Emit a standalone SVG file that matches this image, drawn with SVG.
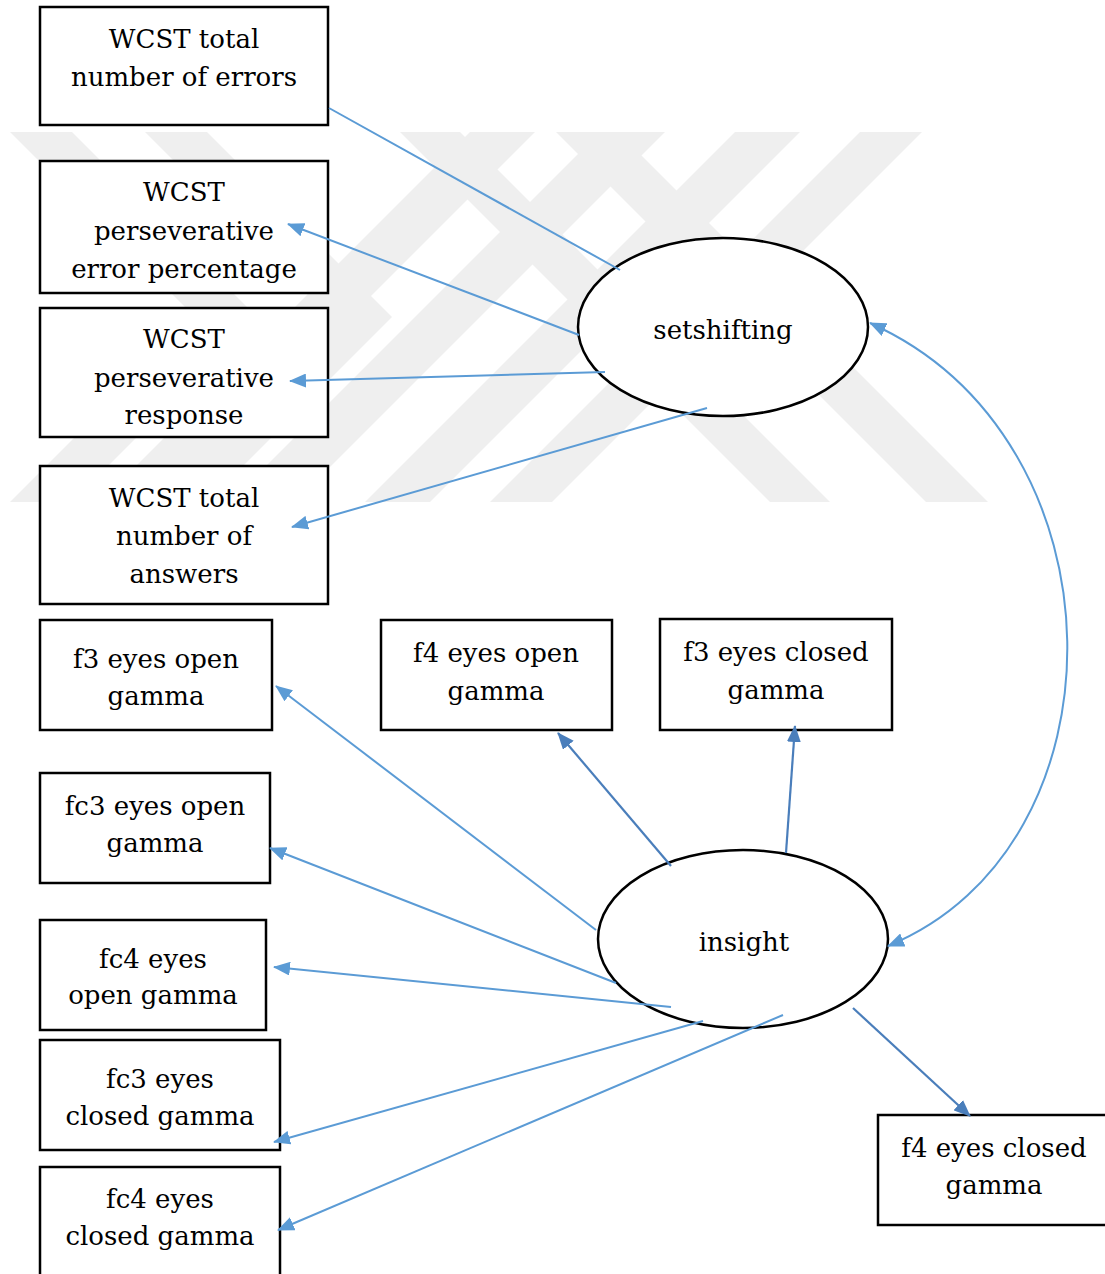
<svg xmlns="http://www.w3.org/2000/svg" width="1105" height="1274" viewBox="0 0 1105 1274">
  <style>
    .box { fill: #ffffff; stroke: #000000; stroke-width: 2.5; }
    .lat { fill: #ffffff; stroke: #000000; stroke-width: 2.5; }
    .lbl { font-family: "DejaVu Serif", "Liberation Serif", serif; font-size: 26px; fill: #000000; text-anchor: middle; }
    .ln { fill: none; stroke: #5b9bd5; stroke-width: 2; }
    .ln2 { fill: none; stroke: #4a7ebb; stroke-width: 2.2; }
    .wm { fill: #efefef; }
  </style>
  <defs>
    <marker id="ah" markerUnits="userSpaceOnUse" markerWidth="17" markerHeight="14" refX="16" refY="7" orient="auto-start-reverse">
      <path d="M0,0 L17,7 L0,14 Z" fill="#5b9bd5"/>
    </marker>
    <marker id="ah2" markerUnits="userSpaceOnUse" markerWidth="17" markerHeight="14" refX="16" refY="7" orient="auto">
      <path d="M0,0 L17,7 L0,14 Z" fill="#4a7ebb"/>
    </marker>
  </defs>

  <rect x="0" y="0" width="1105" height="1274" fill="#ffffff"/>

  <!-- faint background emblem: diagonal bands -->
  <g id="watermark">
    <polygon class="wm" points="10,132 72,132 257,317 72,502 10,502 195,317"/>
    <polygon class="wm" points="145,132 207,132 392,317 207,502 145,502 330,317"/>
    <polygon class="wm" points="470,132 535,132 165,502 100,502"/>
    <polygon class="wm" points="600,132 665,132 295,502 230,502"/>
    <polygon class="wm" points="735,132 800,132 430,502 365,502"/>
    <polygon class="wm" points="860,132 922,132 552,502 490,502"/>
    <polygon class="wm" points="400,132 460,132 830,502 770,502"/>
    <polygon class="wm" points="556,132 618,132 988,502 926,502"/>
  </g>

  <!-- latent variables -->
  <g id="setshifting">
    <ellipse class="lat" cx="723" cy="327" rx="145" ry="89"/>
    <text class="lbl" x="723" y="339">setshifting</text>
  </g>
  <g id="insight">
    <ellipse class="lat" cx="743" cy="939" rx="145" ry="89"/>
    <text class="lbl" x="744" y="951">insight</text>
  </g>

  <!-- observed variables -->
  <g id="wcst-total-errors">
    <rect class="box" x="40" y="7" width="288" height="118"/>
    <text class="lbl" x="184" y="48">WCST total</text>
    <text class="lbl" x="184" y="86">number of errors</text>
  </g>
  <g id="wcst-persev-error-pct">
    <rect class="box" x="40" y="161" width="288" height="132"/>
    <text class="lbl" x="184" y="201">WCST</text>
    <text class="lbl" x="184" y="240">perseverative</text>
    <text class="lbl" x="184" y="278">error percentage</text>
  </g>
  <g id="wcst-persev-response">
    <rect class="box" x="40" y="308" width="288" height="129"/>
    <text class="lbl" x="184" y="348">WCST</text>
    <text class="lbl" x="184" y="387">perseverative</text>
    <text class="lbl" x="184" y="424">response</text>
  </g>
  <g id="wcst-total-answers">
    <rect class="box" x="40" y="466" width="288" height="138"/>
    <text class="lbl" x="184" y="507">WCST total</text>
    <text class="lbl" x="184" y="545">number of</text>
    <text class="lbl" x="184" y="583">answers</text>
  </g>
  <g id="f3-eo-gamma">
    <rect class="box" x="40" y="620" width="232" height="110"/>
    <text class="lbl" x="156" y="668">f3 eyes open</text>
    <text class="lbl" x="156" y="705">gamma</text>
  </g>
  <g id="f4-eo-gamma">
    <rect class="box" x="381" y="620" width="231" height="110"/>
    <text class="lbl" x="496" y="662">f4 eyes open</text>
    <text class="lbl" x="496" y="700">gamma</text>
  </g>
  <g id="f3-ec-gamma">
    <rect class="box" x="660" y="619" width="232" height="111"/>
    <text class="lbl" x="776" y="661">f3 eyes closed</text>
    <text class="lbl" x="776" y="699">gamma</text>
  </g>
  <g id="fc3-eo-gamma">
    <rect class="box" x="40" y="773" width="230" height="110"/>
    <text class="lbl" x="155" y="815">fc3 eyes open</text>
    <text class="lbl" x="155" y="852">gamma</text>
  </g>
  <g id="fc4-eo-gamma">
    <rect class="box" x="40" y="920" width="226" height="110"/>
    <text class="lbl" x="153" y="968">fc4 eyes</text>
    <text class="lbl" x="153" y="1004">open gamma</text>
  </g>
  <g id="fc3-ec-gamma">
    <rect class="box" x="40" y="1040" width="240" height="110"/>
    <text class="lbl" x="160" y="1088">fc3 eyes</text>
    <text class="lbl" x="160" y="1125">closed gamma</text>
  </g>
  <g id="fc4-ec-gamma">
    <rect class="box" x="40" y="1167" width="240" height="120"/>
    <text class="lbl" x="160" y="1208">fc4 eyes</text>
    <text class="lbl" x="160" y="1245">closed gamma</text>
  </g>
  <g id="f4-ec-gamma">
    <rect class="box" x="878" y="1115" width="240" height="110"/>
    <text class="lbl" x="994" y="1157">f4 eyes closed</text>
    <text class="lbl" x="994" y="1194">gamma</text>
  </g>

  <!-- connectors, drawn over the shapes -->
  <g id="connectors">
    <line class="ln" x1="329" y1="108" x2="620" y2="270"/>
    <line class="ln" x1="579" y1="335" x2="288" y2="224" marker-end="url(#ah)"/>
    <line class="ln" x1="605" y1="372" x2="290" y2="381" marker-end="url(#ah)"/>
    <line class="ln" x1="707" y1="408" x2="292" y2="527" marker-end="url(#ah)"/>
    <line class="ln" x1="596" y1="930" x2="276" y2="686" marker-end="url(#ah)"/>
    <line class="ln" x1="616" y1="983" x2="270" y2="848" marker-end="url(#ah)"/>
    <line class="ln" x1="671" y1="1007" x2="274" y2="967" marker-end="url(#ah)"/>
    <line class="ln" x1="703" y1="1021" x2="274" y2="1142" marker-end="url(#ah)"/>
    <line class="ln" x1="783" y1="1015" x2="278" y2="1230" marker-end="url(#ah)"/>
    <line class="ln2" x1="671" y1="866" x2="558" y2="733" marker-end="url(#ah2)"/>
    <line class="ln2" x1="786" y1="853" x2="795" y2="726" marker-end="url(#ah2)"/>
    <line class="ln2" x1="853" y1="1008" x2="970" y2="1116" marker-end="url(#ah2)"/>
    <path class="ln" d="M870,323 C1130,440 1130,847 888,946" marker-start="url(#ah)" marker-end="url(#ah)"/>
  </g>
</svg>
